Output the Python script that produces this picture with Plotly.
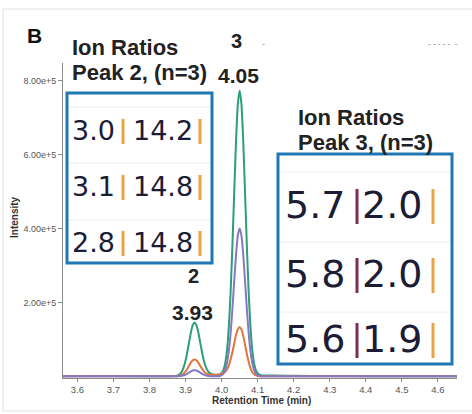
import plotly.graph_objects as go

# ---------------- data ----------------
retention_time = [
    3.56, 3.65, 3.75, 3.85,
    3.860, 3.865, 3.870, 3.875, 3.880, 3.885, 3.890, 3.895, 3.900, 3.905,
    3.910, 3.915, 3.920, 3.925, 3.930, 3.935, 3.940, 3.945, 3.950, 3.955,
    3.960, 3.965, 3.970, 3.975, 3.980, 3.985, 3.990, 3.995, 4.000, 4.005,
    4.010, 4.015, 4.020, 4.025, 4.030, 4.035, 4.040, 4.045, 4.050, 4.055,
    4.060, 4.065, 4.070, 4.075, 4.080, 4.085, 4.090, 4.095, 4.100, 4.105,
    4.110, 4.115, 4.120,
    4.15, 4.20, 4.30, 4.40, 4.50, 4.653,
]
# intensities in thousands of counts
green_k = [
    1.0, 1.2, 1.0, 1.0,
    1.0, 1.2, 1.5, 2.2, 3.8, 7.4, 14, 26, 43, 67,
    94, 120, 139, 146, 139, 121, 95, 69, 46, 29,
    18, 11, 7.5, 5.5, 4.5, 4.2, 4.5, 5.5, 9, 17,
    36, 72, 134, 229, 355, 498, 636, 736, 773, 736,
    636, 498, 354, 229, 134, 72, 36, 17, 9, 5,
    3.5, 3.0, 2.8,
    2.5, 2.0, 1.5, 1.0, 1.0, 1.0,
]
orange_k = [
    0.5, 0.5, 0.5, 0.5,
    0.5, 0.6, 0.7, 0.9, 1.4, 2.5, 4.6, 8.3, 13.8, 21,
    29.6, 38, 43.8, 46, 43.8, 38, 30, 22, 15, 10,
    7, 5.5, 5, 4.8, 4.8, 5, 5.5, 6.5, 8, 10,
    13, 19, 30, 46, 66, 89, 112, 128, 133, 127,
    110, 86, 61, 40, 23, 12, 6, 3, 1.5, 1.0,
    0.8, 0.6, 0.5,
    0.5, 0.5, 0.5, 0.5, 0.5, 0.5,
]
purple_k = [
    0.5, 0.5, 0.5, 0.5,
    0.5, 0.5, 0.5, 0.6, 0.8, 1.2, 2, 3.4, 5.3, 8,
    11, 14, 16.2, 17, 16.2, 14, 11, 8, 5.3, 3.4,
    2, 1.2, 0.8, 0.6, 0.5, 0.6, 0.8, 1.5, 3.5, 8,
    18, 37, 69, 118, 183, 258, 329, 381, 400, 381,
    329, 258, 183, 118, 69, 37, 18, 8, 3.5, 1.5,
    1.0, 0.8, 0.6,
    0.5, 0.5, 0.5, 0.5, 0.5, 0.5,
]

x_ticks = [3.6, 3.7, 3.8, 3.9, 4.0, 4.1, 4.2, 4.3, 4.4, 4.5, 4.6]
y_ticks = [200000, 400000, 600000, 800000]

peak_numbers = ["2", "3"]
peak_times = ["3.93", "4.05"]

peak2_ratio_a = ["3.0", "3.1", "2.8"]
peak2_ratio_b = ["14.2", "14.8", "14.8"]
peak3_ratio_a = ["5.7", "5.8", "5.6"]
peak3_ratio_b = ["2.0", "2.0", "1.9"]

# ---------------- styling ----------------
GREEN = "#2a9f78"
ORANGE = "#e0763a"
PURPLE = "#8678c4"
BOX = "#1f78b4"
BAR_OR = "#e8a443"
BAR_MA = "#7b2d52"
NUM = "#1c1c36"
FONT = "Liberation Sans, Arial, sans-serif"
NUMFONT = "DejaVu Sans, sans-serif"

W, H = 472, 414
L, R, T, B = 63, 457, 63, 378


def xp(px):
    return (px - L) / (R - L)


def yp(py):
    return (B - py) / (B - T)


fig = go.Figure()
for ys, col in [(green_k, GREEN), (orange_k, ORANGE), (purple_k, PURPLE)]:
    fig.add_trace(go.Scatter(
        x=retention_time, y=[v * 1000 for v in ys], mode="lines",
        line=dict(color=col, width=2, shape="spline", smoothing=0.6),
        showlegend=False, hoverinfo="skip"))

annotations = []
shapes = []


def text(s, px, baseline, size, color="#222", bold=False, anchor="left",
         family=FONT, descent=0.212):
    if bold:
        s = "<b>" + s + "</b>"
    annotations.append(dict(
        text=s, xref="paper", yref="paper", x=xp(px),
        y=yp(baseline + descent * size), xanchor=anchor, yanchor="bottom",
        showarrow=False, borderpad=0, borderwidth=0,
        font=dict(family=family, size=size, color=color)))


def vline(px, y0, y1, color, width=3):
    shapes.append(dict(type="line", xref="paper", yref="paper",
                       x0=xp(px), x1=xp(px), y0=yp(y0), y1=yp(y1),
                       line=dict(color=color, width=width)))


def hline(x0, x1, py, color, width=1):
    shapes.append(dict(type="line", xref="paper", yref="paper",
                       x0=xp(x0), x1=xp(x1), y0=yp(py), y1=yp(py),
                       line=dict(color=color, width=width)))


def rect(x0, y0, x1, y1, color, width):
    shapes.append(dict(type="rect", xref="paper", yref="paper",
                       x0=xp(x0), x1=xp(x1), y0=yp(y0), y1=yp(y1),
                       line=dict(color=color, width=width), layer="above"))


# panel border
rect(3, 9, 480, 411, "#e2e2e2", 1)

# panel letter
text("B", 27, 43, 21, "#111", bold=True)

# peak labels
text(peak_numbers[1], 236, 48, 20, "#222", bold=True, anchor="center")
text(peak_times[1], 238, 83, 21, "#222", bold=True, anchor="center")
text(peak_numbers[0], 193, 283, 20, "#222", bold=True, anchor="center")
text(peak_times[0], 192, 320, 21, "#222", bold=True, anchor="center")

# left table (peak 2)
text("Ion Ratios", 72, 55, 22, "#222", bold=True)
text("Peak 2, (n=3)", 72, 80, 22, "#222", bold=True)
rect(67, 93, 212, 263, BOX, 3)
for yy in [107, 163, 220]:
    hline(69, 210, yy, "#ececec")
for i, base in enumerate([140, 196, 252]):
    text(peak2_ratio_a[i], 72, base, 27, NUM, family=NUMFONT, descent=0.236)
    text(peak2_ratio_b[i], 133, base, 27, NUM, family=NUMFONT, descent=0.236)
    vline(123, base - 21, base + 4, BAR_OR)
    vline(200, base - 21, base + 4, BAR_OR)

# right table (peak 3)
text("Ion Ratios", 298, 125, 22, "#222", bold=True)
text("Peak 3, (n=3)", 298, 150, 22, "#222", bold=True)
rect(278, 154, 452, 364, BOX, 3)
for yy in [172, 242, 312]:
    hline(280, 450, yy, "#ececec")
for i, base in enumerate([218, 287, 352]):
    text(peak3_ratio_a[i], 285, base, 38, NUM, family=NUMFONT, descent=0.236)
    text(peak3_ratio_b[i], 362, base, 38, NUM, family=NUMFONT, descent=0.236)
    vline(357, base - 29, base + 6, BAR_MA)
    vline(433, base - 29, base + 6, BAR_OR)

# faint toolbar remnants
text("- - - - -  -", 428, 46, 8, "#777")
text("-", 262, 47, 9, "#999")

# axis titles
text("Retention Time (min)", 261, 404, 10, "#333", bold=True, anchor="center")
annotations.append(dict(
    text="<b>Intensity</b>", xref="paper", yref="paper", x=xp(14), y=yp(217),
    xanchor="center", yanchor="middle", textangle=-90, showarrow=False,
    font=dict(family=FONT, size=10, color="#333")))

fig.update_layout(
    width=W, height=H, autosize=False,
    margin=dict(l=L, r=W - R, t=T, b=H - B, pad=0),
    paper_bgcolor="white", plot_bgcolor="white",
    font=dict(family=FONT),
    showlegend=False,
    annotations=annotations, shapes=shapes,
    xaxis=dict(range=[3.56, 4.653], showline=True, linecolor="#8a8a8a",
               linewidth=1, ticks="outside", ticklen=3, tickcolor="#8a8a8a",
               tickvals=x_ticks, tickformat=".1f", showgrid=False,
               zeroline=False, tickfont=dict(size=9.5, color="#555")),
    yaxis=dict(range=[-4000, 847000], showline=True, linecolor="#8a8a8a",
               linewidth=1, ticks="outside", ticklen=4, tickcolor="#8a8a8a",
               tickvals=y_ticks, tickformat=".2e", showgrid=False,
               zeroline=False, tickfont=dict(size=9, color="#555")),
)

fig.write_html(
    "out.html",
    config={"displayModeBar": False},
    post_script="document.body.style.margin='0px';"
                "document.body.style.overflow='hidden';",
)
